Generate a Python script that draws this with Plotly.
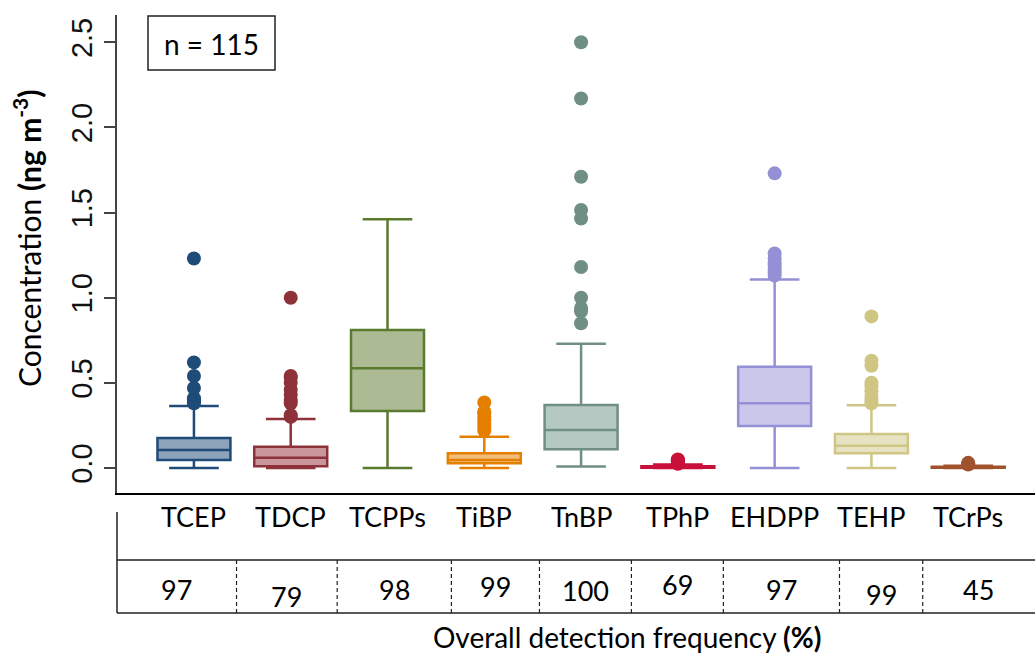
import plotly.graph_objects as go

# ---------------- data ----------------
categories = ["TCEP", "TDCP", "TCPPs", "TiBP", "TnBP", "TPhP", "EHDPP", "TEHP", "TCrPs"]
detect_freq = [97, 79, 98, 99, 100, 69, 97, 99, 45]

lower_whisker = [0.0, 0.0, 0.0, 0.0, 0.008, 0.0, 0.0, 0.0, 0.0]
q1_vals = [0.047, 0.010, 0.334, 0.028, 0.110, 0.002, 0.246, 0.086, 0.001]
median_vals = [0.106, 0.060, 0.585, 0.047, 0.223, 0.005, 0.380, 0.131, 0.003]
q3_vals = [0.176, 0.125, 0.810, 0.086, 0.370, 0.010, 0.595, 0.200, 0.007]
upper_whisker = [0.364, 0.288, 1.460, 0.184, 0.730, 0.020, 1.107, 0.368, 0.013]

outliers_TCEP = [0.38, 0.39, 0.40, 0.41, 0.47, 0.54, 0.62, 1.23]
outliers_TDCP = [0.30, 0.31, 0.38, 0.40, 0.43, 0.46, 0.50, 0.53, 0.54, 1.00]
outliers_TCPPs = []
outliers_TiBP = [0.22, 0.24, 0.26, 0.28, 0.30, 0.32, 0.33, 0.385]
outliers_TnBP = [0.85, 0.92, 0.94, 1.00, 1.18, 1.465, 1.515, 1.71, 2.17, 2.50]
outliers_TPhP = [0.025, 0.03, 0.04, 0.045, 0.05]
outliers_EHDPP = [1.13, 1.15, 1.17, 1.19, 1.21, 1.23, 1.26, 1.73]
outliers_TEHP = [0.38, 0.40, 0.42, 0.45, 0.48, 0.50, 0.60, 0.63, 0.89]
outliers_TCrPs = [0.02, 0.025, 0.03]
outliers = [outliers_TCEP, outliers_TDCP, outliers_TCPPs, outliers_TiBP, outliers_TnBP,
            outliers_TPhP, outliers_EHDPP, outliers_TEHP, outliers_TCrPs]

y_tick_vals = [0.0, 0.5, 1.0, 1.5, 2.0, 2.5]
y_tick_text = ["0.0", "0.5", "1.0", "1.5", "2.0", "2.5"]

# ---------------- styles ----------------
line_colors = ["#1f4b78", "#8e323a", "#5a7a2e", "#e57f00", "#6f8f84",
               "#c8103a", "#9590d6", "#d0c684", "#a0522d"]
fill_colors = ["#8da3b9", "#c9979b", "#adbb95", "#f2bd7a", "#b6c8c2",
               "#e3889c", "#cac7eb", "#e7e2c2", "#d0a896"]

TEXT_FONT = "Lato"
X_MIN, X_MAX = -0.795, 8.69
Y_MIN, Y_MAX = -0.147, 2.66

# plot area in pixels (for placing table/labels outside the axes)
PL, PR, PT, PB = 117, 1035, 15, 493


def px_to_paper_x(X):
    return (X - PL) / (PR - PL)


def px_to_paper_y(Y):
    return (PB - Y) / (PB - PT)


def data_to_paper_x(x):
    return (x - X_MIN) / (X_MAX - X_MIN)


fig = go.Figure()

for i, cat in enumerate(categories):
    fig.add_trace(go.Box(
        x=[i], q1=[q1_vals[i]], median=[median_vals[i]], q3=[q3_vals[i]],
        lowerfence=[lower_whisker[i]], upperfence=[upper_whisker[i]],
        width=0.754, whiskerwidth=0.68,
        fillcolor=fill_colors[i], line=dict(color=line_colors[i], width=2.5),
        boxpoints=False, name=cat, showlegend=False, hoverinfo="skip",
    ))

for i, cat in enumerate(categories):
    if outliers[i]:
        fig.add_trace(go.Scatter(
            x=[i] * len(outliers[i]), y=outliers[i], mode="markers",
            marker=dict(size=14, color=line_colors[i], line=dict(width=0)),
            showlegend=False, hoverinfo="skip",
        ))

annotations = []
shapes = []

# category labels under axis
for i, cat in enumerate(categories):
    annotations.append(dict(
        x=i, xref="x", y=px_to_paper_y(516), yref="paper", text=cat, showarrow=False,
        xanchor="center", yanchor="middle",
        font=dict(family=TEXT_FONT, size=27, color="black"),
    ))

# detection frequency table
separators = [0.44, 1.48, 2.66, 3.57, 4.52, 5.47, 6.67, 7.53]
bounds = [X_MIN] + separators + [X_MAX]
value_y_px = [589, 596, 589, 586, 590, 584, 589, 594, 589]
for i, v in enumerate(detect_freq):
    cx = (bounds[i] + bounds[i + 1]) / 2
    annotations.append(dict(
        x=data_to_paper_x(cx), xref="paper", y=px_to_paper_y(value_y_px[i]), yref="paper",
        text=str(v), showarrow=False, xanchor="center", yanchor="middle",
        font=dict(family=TEXT_FONT, size=27, color="black"),
    ))

table_line = dict(color="#222222", width=1.5)
shapes.append(dict(type="line", xref="paper", yref="paper", x0=0, x1=0,
                   y0=px_to_paper_y(512), y1=px_to_paper_y(613), line=table_line))
shapes.append(dict(type="line", xref="paper", yref="paper", x0=0, x1=1,
                   y0=px_to_paper_y(560), y1=px_to_paper_y(560), line=table_line))
shapes.append(dict(type="line", xref="paper", yref="paper", x0=0, x1=1,
                   y0=px_to_paper_y(613), y1=px_to_paper_y(613), line=table_line))
for s in separators:
    xp = data_to_paper_x(s)
    shapes.append(dict(type="line", xref="paper", yref="paper", x0=xp, x1=xp,
                       y0=px_to_paper_y(560), y1=px_to_paper_y(613),
                       line=dict(color="#222222", width=1.2, dash="4px,3px")))

# n = 115 box
shapes.append(dict(type="rect", xref="paper", yref="paper",
                   x0=px_to_paper_x(148), x1=px_to_paper_x(275),
                   y0=px_to_paper_y(70), y1=px_to_paper_y(16),
                   line=dict(color="#222222", width=1.5), fillcolor="white"))
annotations.append(dict(
    x=px_to_paper_x(211), xref="paper", y=px_to_paper_y(44), yref="paper",
    text="n = 115", showarrow=False, xanchor="center", yanchor="middle",
    font=dict(family=TEXT_FONT, size=28, color="black"),
))

# axis titles
annotations.append(dict(
    x=px_to_paper_x(27), xref="paper", y=px_to_paper_y(238), yref="paper",
    text="Concentration <b>(ng m<sup>-3</sup>)</b>", showarrow=False, textangle=-90,
    xanchor="center", yanchor="middle",
    font=dict(family=TEXT_FONT, size=30, color="black"),
))
annotations.append(dict(
    x=px_to_paper_x(627), xref="paper", y=px_to_paper_y(637), yref="paper",
    text="Overall detection frequency <b>(%)</b>", showarrow=False,
    xanchor="center", yanchor="middle",
    font=dict(family=TEXT_FONT, size=28, color="black"),
))

fig.update_layout(
    width=1035, height=658, template="none",
    margin=dict(l=PL, r=1035 - PR, t=PT, b=658 - PB, pad=0),
    paper_bgcolor="white", plot_bgcolor="white", showlegend=False,
    boxmode="overlay",
    xaxis=dict(range=[X_MIN, X_MAX], showticklabels=False, ticks="", showgrid=False,
               zeroline=False, showline=True, linecolor="black", linewidth=2,
               automargin=False, fixedrange=True),
    yaxis=dict(range=[Y_MIN, Y_MAX], tickvals=y_tick_vals, ticktext=y_tick_text,
               ticks="outside", ticklen=11, tickwidth=2, tickcolor="#444444",
               showline=True, linecolor="#444444", linewidth=2, showgrid=False,
               zeroline=False, tickangle=-90, automargin=False,
               tickfont=dict(family="Liberation Sans", size=29, color="#111111")),
    annotations=annotations, shapes=shapes,
)

fig.write_html("out.html", config={"displayModeBar": False},
               post_script="document.body.style.margin='0px';"
               "document.body.style.padding='0px';"
               "document.body.style.overflow='hidden';")
